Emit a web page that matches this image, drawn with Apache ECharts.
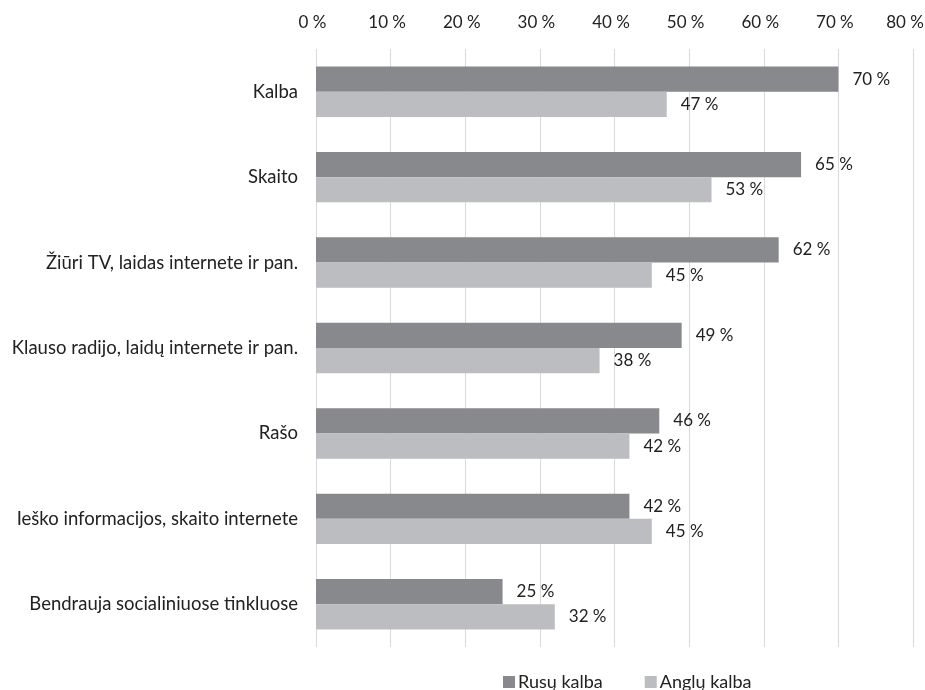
<!DOCTYPE html>
<html>
<head>
<meta charset="utf-8">
<script src="https://cdn.jsdelivr.net/npm/echarts@6/dist/echarts.min.js"></script>
<style>
  html, body { margin: 0; padding: 0; background: #ffffff; }
  #chart { width: 925px; height: 690px; }
</style>
</head>
<body>
<div id="chart"></div>
<script>
// Activity categories (top to bottom)
const categories = [
  'Kalba',
  'Skaito',
  'Žiūri TV, laidas internete ir pan.',
  'Klauso radijo, laidų internete ir pan.',
  'Rašo',
  'Ieško informacijos, skaito internete',
  'Bendrauja socialiniuose tinkluose'
];
// Share of respondents, %
const russianValues = [70, 65, 62, 49, 46, 42, 25];
const englishValues = [47, 53, 45, 38, 42, 45, 32];
const seriesNames = ['Rusų kalba', 'Anglų kalba'];
const axisMax = 80;

const FONT = 'Lato, "Open Sans", sans-serif';
const TEXT = '#222222';

const chart = echarts.init(document.getElementById('chart'), null, { renderer: 'canvas' });

const labelCfg = {
  show: true,
  position: 'right',
  distance: 14,
  color: TEXT,
  fontFamily: FONT,
  fontSize: 17,
  formatter: p => p.value + ' %'
};

const tickText = { color: TEXT, fontFamily: FONT, fontSize: 17 };

chart.setOption({
  backgroundColor: '#ffffff',
  animation: false,
  grid: {
    left: 316, right: 12, top: 49, bottom: 43,
    containLabel: false,
    outerBoundsMode: 'none'
  },
  legend: {
    top: 668,
    left: 498,
    icon: 'rect',
    itemWidth: 12,
    itemHeight: 12,
    itemGap: 42,
    textStyle: { color: TEXT, fontFamily: FONT, fontSize: 18, padding: [0, 0, 0, -2] },
    data: seriesNames
  },
  xAxis: {
    type: 'value',
    position: 'top',
    min: 0,
    max: axisMax,
    interval: 10,
    axisLine: { show: false },
    axisTick: { show: false },
    axisLabel: {
      color: TEXT,
      fontFamily: FONT,
      fontSize: 17,
      margin: 18,
      // the last label is nudged left so it stays on the canvas
      formatter: v => (v === axisMax ? '{end|' : '{tick|') + v + ' %}',
      rich: {
        tick: Object.assign({ padding: [0, 7, 0, 0] }, tickText),
        end: Object.assign({ padding: [0, 16, 0, 0] }, tickText)
      }
    },
    splitLine: { show: true, lineStyle: { color: '#d9d9d9', width: 1 } }
  },
  yAxis: {
    type: 'category',
    data: categories,
    inverse: true,
    axisLine: { show: false },
    axisTick: { show: false },
    axisLabel: {
      color: TEXT,
      fontFamily: FONT,
      fontSize: 18.5,
      margin: 18
    }
  },
  series: [
    {
      name: seriesNames[0],
      type: 'bar',
      data: russianValues,
      itemStyle: { color: '#88898c' },
      barGap: '0%',
      barCategoryGap: '41%',
      label: labelCfg
    },
    {
      name: seriesNames[1],
      type: 'bar',
      data: englishValues,
      itemStyle: { color: '#bcbdc0' },
      label: labelCfg
    }
  ]
});
</script>
</body>
</html>
